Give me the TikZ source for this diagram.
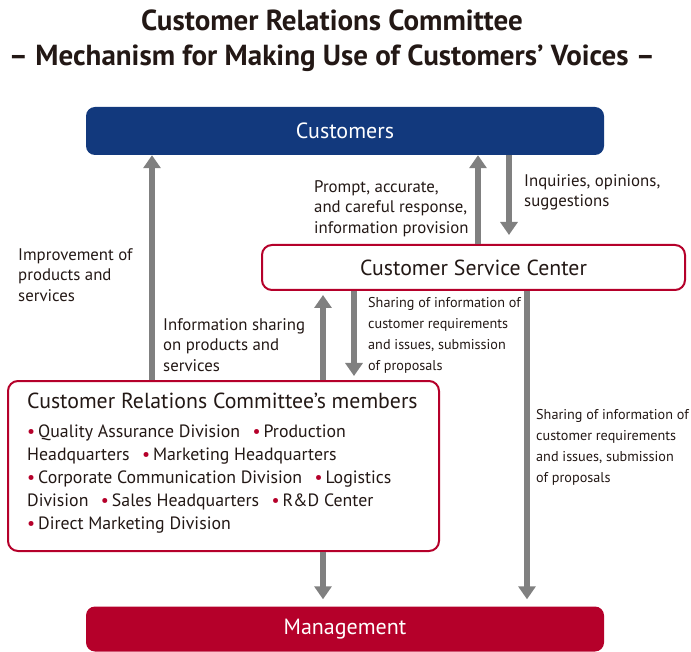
\documentclass[tikz,border=0pt]{standalone}
\usepackage{fontspec}
\setmainfont{PT Sans}
\usetikzlibrary{arrows.meta}

\definecolor{azulCliente}{RGB}{18,57,125}
\definecolor{vermelho}{RGB}{181,0,42}
\definecolor{cinzaSeta}{RGB}{128,128,128}
\definecolor{texto}{RGB}{35,24,21}

\newcommand{\marca}{\textcolor{vermelho}{•}\,}

\begin{document}
\begin{tikzpicture}[
    x=1pt, y=-1pt,
    % Estilo padrão dos nós
    every node/.style={text=texto, inner sep=0pt},
    % Caixas cheias (clientes e gestão)
    caixa cheia/.style={rectangle, rounded corners=9pt, text=white,
      font=\fontsize{22}{24}\selectfont},
    % Caixas com borda vermelha
    caixa borda/.style={rectangle, rounded corners=10pt, draw=vermelho,
      line width=2pt, fill=white},
    % Setas cinzas
    seta/.style={draw=cinzaSeta, line width=5.5pt,
      -{Triangle[width=17pt,length=13pt]}},
    % Rótulos das setas
    rotulo/.style={anchor=north west, align=left,
      font=\fontsize{16.8}{20.5}\selectfont},
    rotulo estreito/.style={anchor=north west, align=left,
      font=\fontsize{14.2}{21}\selectfont}
  ]

  % Área da figura
  \useasboundingbox (0,0) rectangle (691,652);

  % Título
  \node[anchor=north, align=center, font=\fontsize{29}{35}\selectfont\bfseries]
    (titulo) at (332,10)
    {Customer Relations Committee\\– Mechanism for Making Use of Customers’ Voices –};

  % Caixa dos clientes
  \node[caixa cheia, fill=azulCliente, minimum width=518pt, minimum height=48pt]
    (clientes) at (345,131) {Customers};
  % Caixa da gestão
  \node[caixa cheia, fill=vermelho, minimum width=518pt, minimum height=45pt]
    (gestao) at (345,629) {Management};
  % Central de atendimento
  \node[caixa borda, minimum width=423pt, minimum height=45pt,
    font=\fontsize{21.8}{24}\selectfont]
    (central) at (473.5,267.5) {Customer Service Center};
  % Membros do comitê
  \node[caixa borda, minimum width=431pt, minimum height=170pt]
    (membros) at (223.5,466) {};
  \node[anchor=north west, font=\fontsize{21.8}{24}\selectfont]
    (membrosTitulo) at (27,393) {Customer Relations Committee’s members};
  \node[anchor=north west, align=left, font=\fontsize{17.8}{22.8}\selectfont]
    (membrosLista) at (27,425)
    {\marca Quality Assurance Division\hspace{0.7em}\marca Production\\
     Headquarters\hspace{0.7em}\marca Marketing Headquarters\\
     \marca Corporate Communication Division\hspace{0.7em}\marca Logistics\\
     Division\hspace{0.7em}\marca Sales Headquarters\hspace{0.7em}\marca R\&D Center\\
     \marca Direct Marketing Division};

  % Setas
  \draw[seta] (152,0 |- membros.north) -- (152,0 |- clientes.south);
  \draw[seta] (478,0 |- central.north) -- (478,0 |- clientes.south);
  \draw[seta, shorten >=9pt] (509,0 |- clientes.south) -- (509,0 |- central.north);
  \draw[seta, shorten >=4pt] (323,0 |- membros.north) -- (323,0 |- central.south);
  \draw[seta, shorten >=4pt] (354,0 |- central.south) -- (354,0 |- membros.north);
  \draw[seta, shorten >=7pt] (527,0 |- central.south) -- (527,0 |- gestao.north);
  \draw[seta, shorten >=7pt] (323,0 |- membros.south) -- (323,0 |- gestao.north);

  % Rótulos
  \node[rotulo] (rotResposta) at (314,180)
    {Prompt, accurate,\\and careful response,\\information provision};
  \node[rotulo] (rotConsultas) at (524,174)
    {Inquiries, opinions,\\suggestions};
  \node[rotulo] (rotMelhoria) at (18,248)
    {Improvement of\\products and\\services};
  \node[rotulo] (rotInformacao) at (163,318)
    {Information sharing\\on products and\\services};
  \node[rotulo estreito] (rotPartilha) at (368,297)
    {Sharing of information of\\customer requirements\\and issues, submission\\of proposals};
  \node[rotulo estreito] (rotPartilhaGestao) at (536,409)
    {Sharing of information of\\customer requirements\\and issues, submission\\of proposals};

\end{tikzpicture}
\end{document}
